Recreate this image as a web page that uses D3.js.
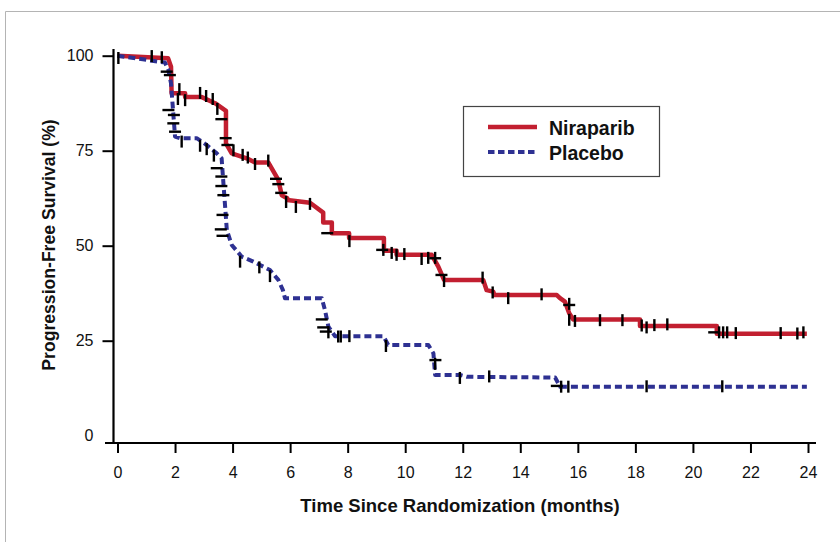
<!DOCTYPE html>
<html>
<head>
<meta charset="utf-8">
<script src="https://cdn.jsdelivr.net/npm/d3@7"></script>
<style>
  html, body { margin: 0; padding: 0; background: #fff; }
  svg { display: block; }
  .tick text { font-family: "Liberation Sans", Arial, sans-serif; fill: #111; }
</style>
</head>
<body>
<svg id="chart" width="840" height="542"></svg>
<script>
// ---------- data ----------
const xTicks = [0, 2, 4, 6, 8, 10, 12, 14, 16, 18, 20, 22, 24];
const yTicks = [0, 25, 50, 75, 100];
const seriesNames = ["Niraparib", "Placebo"];

// Kaplan-Meier curve outlines (months, % progression-free)
const nirTime = [0, 1.76, 1.86, 1.88, 2.35, 2.35, 2.93, 3.39, 3.77, 3.77, 3.97, 4.49, 4.78, 5.24, 5.59, 5.71, 5.9, 5.9, 6.69, 7.15, 7.15, 7.45, 7.45, 8.05, 8.05, 9.26, 9.26, 9.7, 9.7, 10.92, 11.15, 11.35, 12.71, 12.83, 13.06, 13.1, 15.27, 15.38, 15.55, 15.7, 15.84, 18.16, 18.16, 20.83, 20.83, 23.96];
const nirSurv = [100, 99.3, 97.1, 90.1, 90.1, 89.1, 89.1, 87.5, 85.5, 76.9, 74.3, 73.0, 71.9, 71.9, 67.3, 63.3, 62.5, 62.0, 61.3, 58.7, 56.1, 56.1, 53.3, 53.3, 52.0, 52.0, 48.7, 48.7, 47.6, 47.6, 44.5, 41.0, 41.0, 38.3, 37.9, 37.0, 37.0, 36.2, 35.3, 32.2, 30.6, 30.6, 28.9, 28.9, 26.8, 26.8];

const plaTime = [0, 1.65, 1.77, 1.86, 2.0, 2.17, 2.75, 3.1, 3.45, 3.62, 3.63, 3.8, 3.97, 4.32, 4.72, 5.3, 5.59, 5.75, 5.82, 7.1, 7.21, 7.33, 7.56, 9.24, 9.41, 10.8, 10.98, 11.04, 11.9, 12.14, 15.21, 15.38, 23.96];
const plaSurv = [100, 98.2, 96.2, 92.7, 78.7, 78.3, 78.3, 76.5, 74.3, 73.0, 71.8, 54.1, 50.2, 47.1, 45.8, 43.6, 41.0, 38.3, 36.2, 36.2, 33.1, 28.7, 26.2, 26.2, 23.9, 23.9, 21.7, 16.0, 16.0, 15.5, 15.3, 12.9, 12.9];

// censor marks [month, %] drawn as vertical ticks
const nirCensorV = [[0.03, 99.4], [1.19, 99.9], [1.54, 99.6], [2.15, 91.2], [2.1, 88.6], [2.35, 88.3], [2.87, 90.2], [3.08, 89.4], [3.31, 88.6], [3.47, 86.0], [4.03, 75.1], [4.35, 73.9], [4.53, 73.2], [4.78, 71.5], [5.24, 72.4], [5.86, 61.5], [6.2, 60.2], [6.69, 61.0], [8.06, 51.2], [9.24, 48.9], [9.53, 48.1], [9.7, 47.6], [9.97, 47.8], [10.57, 46.5], [10.8, 46.8], [11.04, 46.8], [11.35, 40.7], [12.69, 41.6], [13.04, 37.7], [13.58, 36.2], [14.74, 37.2], [15.7, 34.7], [15.7, 30.5], [15.9, 30.2], [16.77, 30.4], [17.55, 30.4], [18.22, 29.0], [18.39, 28.5], [18.66, 29.1], [19.11, 29.3], [20.91, 27.2], [21.05, 27.2], [21.19, 27.2], [21.49, 27.0], [23.05, 27.0], [23.63, 26.9], [23.84, 27.2]];
// censor marks drawn as horizontal ticks (on steep drops)
const nirCensorH = [[3.61, 83.3], [3.76, 78.3], [3.82, 76.5], [5.51, 67.6], [5.59, 66.2], [5.69, 63.9], [7.29, 53.3], [9.2, 48.9], [11.04, 46.7], [11.26, 42.3], [15.7, 34.4], [20.74, 27.2]];

const plaCensorV = [[2.23, 77.4], [2.87, 76.3], [3.1, 75.4], [3.35, 73.7], [4.26, 45.8], [4.93, 44.3], [5.3, 42.0], [7.33, 27.2], [7.67, 26.1], [7.76, 26.1], [8.06, 26.2], [9.33, 23.6], [11.04, 18.9], [11.9, 15.2], [12.92, 15.6], [15.42, 12.9], [15.67, 12.9], [18.39, 13.0], [21.02, 13.0]];
const plaCensorH = [[1.71, 95.8], [1.82, 94.9], [1.77, 85.7], [1.96, 84.4], [1.94, 82.2], [2.0, 80.0], [3.45, 70.4], [3.61, 68.2], [3.61, 65.7], [3.68, 63.3], [3.65, 58.1], [3.59, 54.3], [3.65, 52.6], [7.1, 30.6], [7.15, 28.5], [7.24, 27.4], [11.05, 19.9], [15.27, 13.1]];

// ---------- drawing ----------
const svg = d3.select("#chart");
const RED = "#c21f30", BLUE = "#2e3192";
const FONT = '"Liberation Sans", Arial, sans-serif';

// outer frame
svg.append("path").attr("d", "M5.5,542 L5.5,11.5 L840,11.5")
  .attr("fill", "none").attr("stroke", "#b4b4b4").attr("stroke-width", 1);

const x = d3.scaleLinear().domain([0, 24]).range([117.5, 808]);
const y = d3.scaleLinear().domain([0, 100]).range([435.7, 55.7]);
const axisX = 113.5, axisY = 443;

// x axis
const gx = svg.append("g").attr("transform", `translate(0,${axisY})`)
  .call(d3.axisBottom(x).tickValues(xTicks).tickSize(10).tickSizeOuter(0).tickPadding(14));
gx.select(".domain").remove();
gx.selectAll(".tick line").attr("stroke", "#000").attr("stroke-width", 2);
gx.selectAll(".tick text").attr("font-size", 16);
svg.append("line").attr("x1", 105).attr("x2", 816).attr("y1", axisY).attr("y2", axisY)
  .attr("stroke", "#000").attr("stroke-width", 2.2);

// y axis
const gy = svg.append("g").attr("transform", `translate(${axisX},0)`)
  .call(d3.axisLeft(y).tickValues(yTicks).tickSize(11).tickSizeOuter(0).tickPadding(9));
gy.select(".domain").remove();
gy.selectAll(".tick line").attr("stroke", "#000").attr("stroke-width", 2)
  .attr("display", d => d === 0 ? "none" : null);
gy.selectAll(".tick text").attr("font-size", 16).attr("dy", "0.3em");
svg.append("line").attr("x1", axisX).attr("x2", axisX).attr("y1", 49).attr("y2", axisY)
  .attr("stroke", "#000").attr("stroke-width", 2.2);

// axis titles
svg.append("text").attr("x", 460).attr("y", 512).attr("text-anchor", "middle")
  .attr("font-family", FONT).attr("font-weight", "bold").attr("font-size", 18.5)
  .attr("fill", "#111").text("Time Since Randomization (months)");
svg.append("text").attr("transform", "translate(55,245) rotate(-90)").attr("text-anchor", "middle")
  .attr("font-family", FONT).attr("font-weight", "bold").attr("font-size", 17.6)
  .attr("fill", "#111").text("Progression-Free Survival (%)");

// curves
const line = d3.line().x(d => x(d[0])).y(d => y(d[1]));
const nirPts = nirTime.map((t, i) => [t, nirSurv[i]]);
const plaPts = plaTime.map((t, i) => [t, plaSurv[i]]);

svg.append("path").datum(nirPts).attr("d", line)
  .attr("fill", "none").attr("stroke", RED).attr("stroke-width", 4.5)
  .attr("stroke-linejoin", "round");
svg.append("path").datum(plaPts).attr("d", line)
  .attr("fill", "none").attr("stroke", BLUE).attr("stroke-width", 4)
  .attr("stroke-dasharray", "7,4").attr("stroke-linejoin", "round");

// censor marks
const marks = svg.append("g").attr("stroke", "#000").attr("stroke-width", 2.4);
marks.selectAll("line.v").data(nirCensorV.concat(plaCensorV)).join("line").attr("class", "v")
  .attr("x1", d => x(d[0])).attr("x2", d => x(d[0]))
  .attr("y1", d => y(d[1]) - 6).attr("y2", d => y(d[1]) + 6);
marks.selectAll("line.h").data(nirCensorH.concat(plaCensorH)).join("line").attr("class", "h")
  .attr("x1", d => x(d[0]) - 6).attr("x2", d => x(d[0]) + 6)
  .attr("y1", d => y(d[1])).attr("y2", d => y(d[1]));

// legend
const lg = svg.append("g");
lg.append("rect").attr("x", 463.5).attr("y", 106.5).attr("width", 196).attr("height", 70)
  .attr("fill", "#fff").attr("stroke", "#444").attr("stroke-width", 1.2);
const legendItems = [
  { name: seriesNames[0], color: RED, dash: null, w: 4.5 },
  { name: seriesNames[1], color: BLUE, dash: "6.5,3.5", w: 4 }
];
legendItems.forEach((it, i) => {
  const cy = 127 + i * 25;
  lg.append("line").attr("x1", 488).attr("x2", 537).attr("y1", cy).attr("y2", cy)
    .attr("stroke", it.color).attr("stroke-width", it.w).attr("stroke-dasharray", it.dash);
  lg.append("text").attr("x", 549).attr("y", cy + 7.5)
    .attr("font-family", FONT).attr("font-weight", "bold").attr("font-size", 19.5)
    .attr("fill", "#111").text(it.name);
});
</script>
</body>
</html>
